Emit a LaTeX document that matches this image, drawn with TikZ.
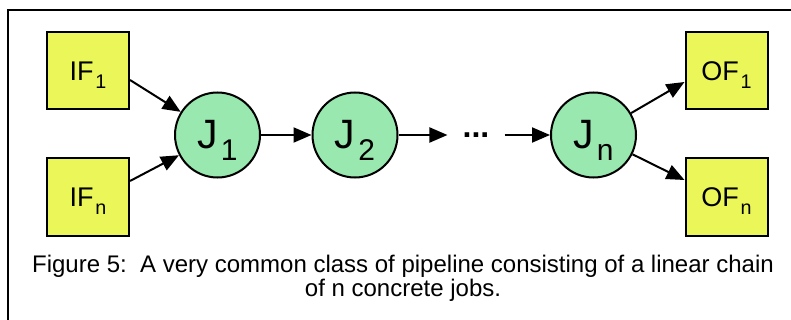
\documentclass[tikz,border=0pt]{standalone}
\usepackage{fontspec}
\setmainfont{Liberation Sans}
\usetikzlibrary{arrows.meta}
\definecolor{filebox}{HTML}{EBF759}
\definecolor{jobfill}{HTML}{98E8B0}
% lowered, smaller index that does not change the label's box
\newcommand\lowsub[1]{\kern0.07em\smash{\raisebox{-0.29em}{\scalebox{0.73}{#1}}}}

\begin{document}
\begin{tikzpicture}[x=1pt,y=-1pt,
  filenode/.style={draw,line width=2pt,fill=filebox,minimum width=82pt,
    minimum height=77pt,inner sep=0pt,font=\fontsize{27}{32}\selectfont},
  jobnode/.style={draw,circle,line width=2pt,fill=jobfill,minimum size=85pt,
    inner sep=0pt,font=\fontsize{41}{48}\selectfont},
  flow/.style={-{Triangle[length=18pt,width=15pt]},line width=2pt},
  captiontext/.style={font=\fontsize{24}{28}\selectfont,anchor=base,inner sep=0pt}]
  \useasboundingbox (0,0) rectangle (791,320);

  % frame
  \draw[line width=2pt] (8,330) -- (8,10) -- (800,10);

  % input files
  \node[filenode] (if1) at (88,71)  {IF\lowsub{1}};
  \node[filenode] (ifn) at (88,197) {IF\lowsub{n}};

  % jobs
  \node[jobnode] (j1) at (217.5,135) {J\lowsub{1}};
  \node[jobnode] (j2) at (355,135)   {J\lowsub{2}};
  \node[inner xsep=15pt,inner ysep=0pt,font=\fontsize{32}{36}\selectfont\bfseries] (dots) at (476,135) {...};
  \node[jobnode] (jn) at (593.5,135) {J\lowsub{n}};

  % output files
  \node[filenode] (of1) at (726.5,71)  {OF\lowsub{1}};
  \node[filenode] (ofn) at (726.5,197) {OF\lowsub{n}};

  % connectors
  \draw[flow] ([yshift=-9pt]if1.east) -- (j1);
  \draw[flow] ([yshift=16pt]ifn.east) -- (j1);
  \draw[flow] (j1) -- (j2);
  \draw[flow] (j2) -- (dots.west |- j2);
  \draw[flow] (dots.east |- jn) -- (jn);
  \draw[flow] (jn) -- ([yshift=-11pt]of1.west);
  \draw[flow] (jn) -- ([yshift=17pt]ofn.west);

  % caption
  \node[captiontext] (cap1) at (403,272) {Figure 5:\ \ A very common class of pipeline consisting of a linear chain};
  \node[captiontext] (cap2) at (403,296) {of n concrete jobs.};
\end{tikzpicture}
\end{document}
